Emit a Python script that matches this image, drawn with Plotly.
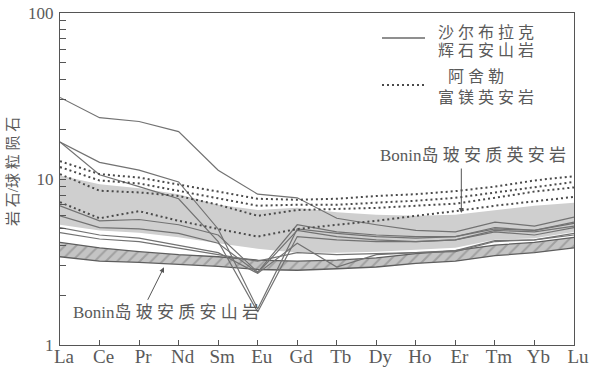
import plotly.graph_objects as go

# REE elements (chondrite-normalised pattern)
elements = ["La", "Ce", "Pr", "Nd", "Sm", "Eu", "Gd", "Tb", "Dy", "Ho", "Er", "Tm", "Yb", "Lu"]
xpos = list(range(len(elements)))

# Bonin boninitic dacite field (grey band)
dacite_upper = [10.5, 9.3, 8.8, 8.1, 7.0, 6.5, 6.7, 6.3, 6.1, 6.0, 6.1, 6.5, 6.9, 7.2]
dacite_lower = [5.3, 4.9, 4.75, 4.45, 4.1, 3.8, 3.6, 3.6, 3.65, 3.75, 3.85, 4.3, 4.4, 4.8]

# Bonin boninitic andesite field (hatched band)
andesite_upper = [4.15, 3.85, 3.65, 3.5, 3.4, 3.25, 3.2, 3.25, 3.35, 3.55, 3.7, 4.0, 4.15, 4.45]
andesite_lower = [3.4, 3.2, 3.15, 3.05, 2.98, 2.85, 2.82, 2.88, 2.95, 3.1, 3.2, 3.45, 3.6, 3.85]

# Shaerbulake pyroxene andesite samples (solid lines)
sebl_1 = [31.0, 23.4, 22.2, 19.3, 11.3, 8.1, 7.7, 5.8, 5.3, 4.9, 4.8, 5.5, 5.2, 5.9]
sebl_2 = [16.7, 12.6, 11.3, 9.6, 5.0, 1.65, 5.0, 4.7, 4.5, 4.4, 4.5, 5.1, 4.9, 5.5]
sebl_3 = [16.7, 10.6, 9.0, 7.6, 4.2, 1.58, 4.5, 4.3, 4.2, 4.2, 4.3, 4.9, 4.8, 5.2]
sebl_4 = [6.9, 5.6, 5.7, 5.3, 4.6, 2.75, 5.3, 4.8, 4.6, 4.5, 4.5, 5.0, 4.9, 5.4]
sebl_5 = [6.0, 5.1, 5.0, 4.7, 4.1, 2.72, 4.9, 4.5, 4.3, 4.2, 4.3, 4.8, 4.6, 5.1]
sebl_6 = [5.1, 4.6, 4.4, 4.0, 3.6, 2.7, 4.1, 2.95, 3.5, 3.6, 3.7, 4.25, 4.3, 4.7]
sebl_7 = [4.75, 4.35, 4.2, 3.85, 3.5, 3.2, 3.6, 3.5, 3.55, 3.6, 3.65, 4.2, 4.3, 4.6]

# Ashele Mg-rich dacite samples (dotted lines)
ashele_1 = [12.8, 10.7, 10.2, 9.3, 8.4, 7.6, 7.5, 7.6, 7.9, 8.1, 8.45, 9.0, 9.8, 10.4]
ashele_2 = [11.8, 9.8, 9.4, 8.5, 7.7, 6.9, 7.0, 7.0, 7.2, 7.4, 7.7, 8.3, 9.0, 9.6]
ashele_3 = [10.7, 8.5, 8.3, 7.9, 7.0, 6.0, 6.5, 6.6, 6.7, 6.9, 7.1, 7.7, 8.4, 8.9]
ashele_4 = [7.25, 5.8, 6.4, 5.6, 5.0, 4.5, 5.0, 5.3, 5.6, 6.0, 6.4, 6.9, 7.3, 7.8]

TXT = "#5a5a5a"
AX = "#555555"
SERIF = "Liberation Serif, Noto Sans CJK SC, serif"
CJK = "Liberation Serif, Noto Sans CJK SC, sans-serif"

fig = go.Figure()

# grey dacite field
fig.add_trace(go.Scatter(x=xpos, y=dacite_lower, mode="lines", line=dict(width=0),
                         showlegend=False, hoverinfo="skip"))
fig.add_trace(go.Scatter(x=xpos, y=dacite_upper, mode="lines", line=dict(width=0),
                         fill="tonexty", fillcolor="#cfcfcf", showlegend=False, hoverinfo="skip"))

# hatched andesite field
fig.add_trace(go.Scatter(x=xpos, y=andesite_lower, mode="lines", line=dict(width=1.3, color="#5e5e5e"),
                         showlegend=False, hoverinfo="skip"))
fig.add_trace(go.Scatter(x=xpos, y=andesite_upper, mode="lines", line=dict(width=1.3, color="#5e5e5e"),
                         fill="tonexty", fillcolor="#c2c2c2",
                         fillpattern=dict(shape="/", fgcolor="#7c7c7c", bgcolor="#c4c4c4",
                                          size=8, solidity=0.25),
                         showlegend=False, hoverinfo="skip"))

for ys in [sebl_1, sebl_2, sebl_3, sebl_4, sebl_5, sebl_6, sebl_7]:
    fig.add_trace(go.Scatter(x=xpos, y=ys, mode="lines",
                             line=dict(width=1.2, color="#727272"),
                             showlegend=False, hoverinfo="skip"))

for ys in [ashele_1, ashele_2, ashele_3, ashele_4]:
    fig.add_trace(go.Scatter(x=xpos, y=ys, mode="lines",
                             line=dict(width=2, color="#4a4a4a", dash="2px,3px"),
                             showlegend=False, hoverinfo="skip"))

W, H = 592, 371
L, R, T, B = 60, 18, 13, 26
pw, ph = W - L - R, H - T - B


def px(x):
    return (x - L) / pw


def py(y):
    return (H - B - y) / ph


# legend samples
fig.add_shape(type="line", xref="paper", yref="paper", x0=px(382), x1=px(425), y0=py(38), y1=py(38),
              line=dict(color="#6a6a6a", width=1.3))
fig.add_shape(type="line", xref="paper", yref="paper", x0=px(382), x1=px(425), y0=py(85), y1=py(85),
              line=dict(color="#4a4a4a", width=2, dash="2px,3px"))


def label(x, y, text, size=16, family=CJK, **kw):
    fig.add_annotation(xref="paper", yref="paper", x=px(x), y=py(y), text=text, showarrow=False,
                       font=dict(size=size, color=TXT, family=family), xanchor="center",
                       yanchor="middle", **kw)


label(486, 32, "沙 尔 布 拉 克")
label(486, 50, "辉 石 安 山 岩")
label(476, 77, "阿 舍 勒")
label(486, 97, "富 镁 英 安 岩")
label(473, 155, "Bonin岛 玻 安 质 英 安 岩", size=17)
label(166, 312, "Bonin岛 玻 安 质 安 山 岩", size=17)
label(13, 172, "岩 石/球 粒 陨 石", size=15, textangle=-90)

# arrows to the two Bonin fields
fig.add_annotation(x=10.15, y=0.795, xref="x", yref="y", text="", showarrow=True,
                   ax=0, ay=-46, arrowhead=2, arrowsize=1, arrowwidth=1, arrowcolor="#555")
fig.add_annotation(x=2.63, y=0.468, xref="x", yref="y", text="", showarrow=True,
                   ax=-17, ay=34, arrowhead=2, arrowsize=1, arrowwidth=1, arrowcolor="#555")

fig.update_xaxes(range=[0, 13], tickmode="array", tickvals=xpos, ticktext=elements,
                 ticks="inside", ticklen=5, tickcolor=AX, showline=True, linecolor=AX, linewidth=1.3,
                 mirror=True, showgrid=False, zeroline=False, ticklabelstandoff=-6,
                 ticklabelshift=4,
                 tickfont=dict(family=SERIF, size=19, color=TXT))
fig.update_yaxes(type="log", range=[0, 2], tickmode="array", tickvals=[1, 10, 100],
                 ticktext=["1", "10", "100"], ticks="inside", ticklen=6, tickcolor=AX,
                 minor=dict(ticks="inside", ticklen=6, tickcolor=AX,
                            tickvals=[2, 3, 4, 5, 6, 7, 8, 9, 20, 30, 40, 50, 60, 70, 80, 90]),
                 showline=True, linecolor=AX, linewidth=1.3, mirror=True, showgrid=False,
                 zeroline=False, ticklabelstandoff=2,
                 tickfont=dict(family=SERIF, size=17, color=TXT))

fig.update_layout(width=W, height=H, margin=dict(l=L, r=R, t=T, b=B, autoexpand=False),
                  plot_bgcolor="white", paper_bgcolor="white", showlegend=False)

fig.write_html("out.html")
